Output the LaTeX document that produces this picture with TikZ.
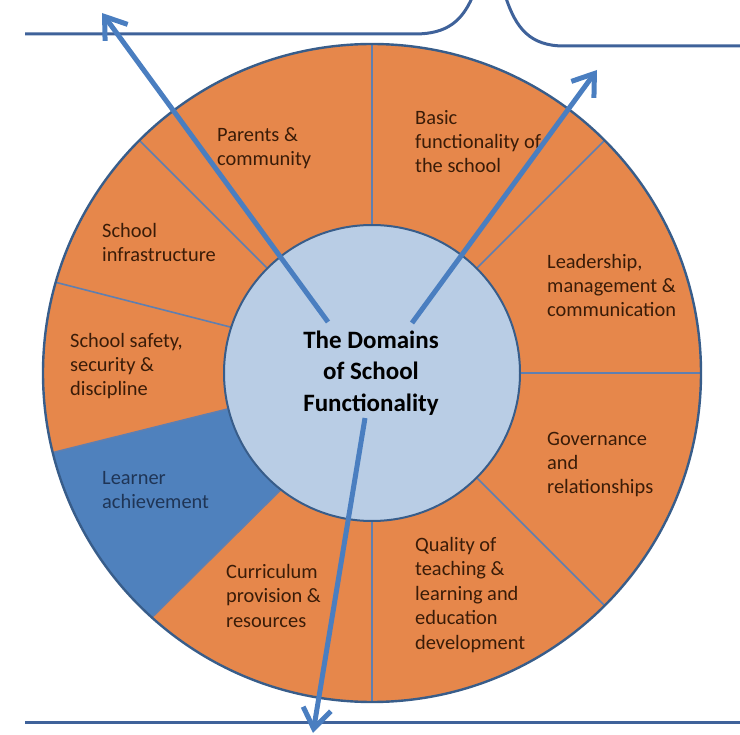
\documentclass[tikz,border=0pt]{standalone}
\usepackage{fontspec}
\setmainfont{Carlito}
\usetikzlibrary{arrows.meta}

\definecolor{sectororange}{HTML}{E6874B}
\definecolor{learnerblue}{HTML}{4F81BD}
\definecolor{hubblue}{HTML}{B9CDE5}
\definecolor{rimnavy}{HTML}{385D8A}
\definecolor{spokeblue}{HTML}{5F7FB0}
\definecolor{arrowblue}{HTML}{4A7EC0}
\definecolor{guideblue}{HTML}{3F629A}
\definecolor{areatext}{HTML}{3A1C08}
\definecolor{learnertext}{HTML}{1F3556}

\begin{document}
\begin{tikzpicture}[x=1pt, y=-1pt,
    areatext/.style={anchor=base west, align=left, inner sep=0pt, text=areatext, font=\fontsize{20.4}{24.4}\selectfont},
    spoke/.style={draw=spokeblue, line width=1.6pt},
    guide/.style={draw=guideblue, line width=3pt},
    pointer/.style={draw=arrowblue, line width=5pt, -{Straight Barb[length=20pt, width=28pt]}}]
    \useasboundingbox (0,0) rectangle (740,735);
    % horizontal guide lines
    \draw [guide] (25,34) -- (415,34) .. controls (448,34) and (462,20) .. (472,-2);
    \draw [guide] (506,-2) .. controls (516,28) and (530,46) .. (564,46) -- (742,46);
    \draw [guide] (25,722) -- (742,722);
    % the wheel
    \begin{scope}[shift={(372,373)}]
    \fill [sectororange] (0,0) circle (329);
    \fill [learnerblue] (128:148) -- (132:329) arc (132:166:329) -- (166:148) -- cycle;
    \draw [spoke] (0,0) -- (270:329);
    \draw [spoke] (0,0) -- (315:329);
    \draw [spoke] (0,0) -- (0:329);
    \draw [spoke] (0,0) -- (45:329);
    \draw [spoke] (0,0) -- (90:329);
    \draw [spoke] (128:148) -- (132:329);
    \draw [spoke] (166:148) -- (166:329);
    \draw [spoke] (198:148) -- (196:329);
    \draw [spoke] (0,0) -- (225:329);
    \draw [draw=rimnavy, line width=2.4pt] (0,0) circle (329);
    \end{scope}
    \node [circle, minimum size=296pt, inner sep=0pt, fill=hubblue, draw=rimnavy, line width=2pt] (hub) at (372,373) {};
    \node [align=center, inner sep=0pt, font=\fontsize{25}{31.5}\selectfont\bfseries] (title) at (371,373) {The Domains\\of School\\Functionality};
    % domain labels (base = last line)
    \node [areatext] (parents) at (217,166) {Parents \&\\community};
    \node [areatext] (basic) at (415,173) {Basic\\functionality of\\the school};
    \node [areatext] (infra) at (102,262) {School\\infrastructure};
    \node [areatext] (lead) at (547,317) {Leadership,\\management \&\\communication};
    \node [areatext] (safety) at (70,396) {School safety,\\security \&\\discipline};
    \node [areatext] (gov) at (547,494) {Governance\\and\\relationships};
    \node [areatext, text=learnertext] (learner) at (102,509) {Learner\\achievement};
    \node [areatext] (curric) at (226,627) {Curriculum\\provision \&\\resources};
    \node [areatext] (quality) at (415,649) {Quality of\\teaching \&\\learning and\\education\\development};
    % pointers
    \coordinate (fromL) at (328,322);
    \coordinate (toL) at (102,13);
    \coordinate (fromR) at (412,323);
    \coordinate (toR) at (597,70);
    \coordinate (fromB) at (365,418);
    \coordinate (toB) at (313,733);
    \draw [pointer] (fromL) -- (toL);
    \draw [pointer] (fromR) -- (toR);
    \draw [pointer] (fromB) -- (toB);
\end{tikzpicture}
\end{document}
